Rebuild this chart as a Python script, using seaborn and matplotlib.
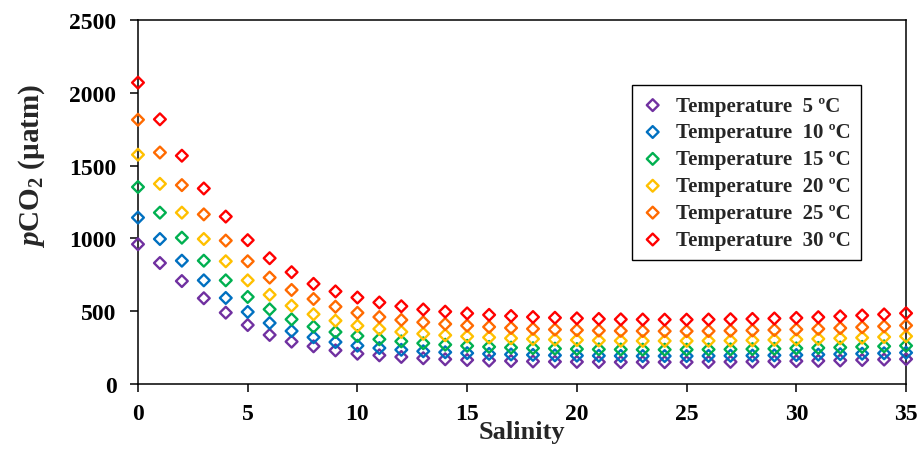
import matplotlib
matplotlib.use("Agg")
import matplotlib.pyplot as plt
import seaborn as sns
import pandas as pd

salinity = list(range(0, 36))

t05 = [960, 831, 707, 589, 490, 405, 337, 291, 259, 231, 208, 197, 186, 177, 170, 165, 161, 158,
       155, 153, 152, 151, 150, 150, 150, 150, 151, 152, 153, 155, 157, 159, 162, 165, 168, 171]
t10 = [1143, 996, 847, 712, 591, 495, 419, 364, 321, 288, 263, 247, 235, 225, 218, 212, 207, 203,
       200, 197, 195, 194, 193, 192, 192, 192, 193, 194, 195, 197, 199, 202, 205, 208, 211, 215]
t15 = [1353, 1177, 1005, 847, 712, 598, 513, 444, 394, 357, 330, 307, 293, 280, 270, 262, 255, 250,
       246, 243, 240, 238, 237, 236, 236, 236, 237, 238, 240, 242, 245, 248, 251, 255, 259, 263]
t20 = [1575, 1375, 1177, 996, 843, 712, 613, 538, 479, 435, 400, 378, 358, 345, 335, 327, 320, 314,
       309, 305, 302, 299, 297, 296, 296, 296, 297, 298, 300, 303, 306, 310, 314, 318, 323, 328]
t25 = [1815, 1590, 1366, 1165, 985, 843, 731, 646, 584, 531, 489, 460, 440, 424, 412, 401, 392, 385,
       379, 374, 370, 367, 365, 364, 363, 363, 364, 366, 368, 371, 375, 379, 384, 390, 396, 402]
t30 = [2070, 1818, 1568, 1343, 1150, 988, 864, 768, 688, 636, 594, 560, 534, 512, 497, 485, 475, 467,
       460, 455, 451, 447, 444, 443, 442, 442, 443, 445, 447, 450, 454, 459, 465, 471, 478, 486]

labels = ["Temperature  5 ºC", "Temperature  10 ºC", "Temperature  15 ºC",
          "Temperature  20 ºC", "Temperature  25 ºC", "Temperature  30 ºC"]
colors = ["#7030A0", "#0070C0", "#00B050", "#FFC000", "#FF6A00", "#FF0000"]
series = [t05, t10, t15, t20, t25, t30]

sns.set_style("white")
plt.rcParams['font.family'] = ['Liberation Serif', 'DejaVu Serif']
plt.rcParams['mathtext.fontset'] = 'custom'
plt.rcParams['mathtext.rm'] = 'Liberation Serif:bold'
plt.rcParams['mathtext.it'] = 'Liberation Serif:italic:bold'
plt.rcParams['mathtext.bf'] = 'Liberation Serif:bold'

fig = plt.figure(figsize=(9.18, 4.52), dpi=100)
ax = fig.add_axes([0.1503, 0.1482, 0.8367, 0.8053])

for vals, lab, col in zip(series, labels, colors):
    df = pd.DataFrame({"Salinity": salinity, "pCO2": vals})
    sns.scatterplot(data=df, x="Salinity", y="pCO2", ax=ax, marker="D", s=36,
                    facecolors="none", edgecolors=col, linewidth=1.7,
                    label=lab, clip_on=False, zorder=3)

ax.set_xlim(0, 35)
ax.set_ylim(0, 2500)
ax.set_xticks(range(0, 36, 5))
ax.set_yticks(range(0, 2501, 500))
for sp in ax.spines.values():
    sp.set_color("black")
    sp.set_linewidth(1.1)
ax.tick_params(axis="both", which="major", direction="out", length=5.5, width=1.1,
               colors="black", labelsize=17)
ax.tick_params(axis="x", pad=8)
ax.tick_params(axis="y", pad=10)
ax.tick_params(left=True, bottom=True)
for t in ax.get_xticklabels() + ax.get_yticklabels():
    t.set_fontweight("bold")

ax.set_xlabel("Salinity", fontsize=19, fontweight="bold", labelpad=-3)
ax.set_ylabel(r"$\mathit{p}$CO$_2$ (µatm)", fontsize=21, fontweight="bold")
ax.yaxis.set_label_coords(-0.118, 0.602)

leg = ax.legend(loc="upper left", bbox_to_anchor=(0.643, 0.821), borderaxespad=0,
                frameon=True, fancybox=False, framealpha=1, edgecolor="black",
                prop={"family": "Liberation Serif", "weight": "bold", "size": 15},
                handlelength=1.0, handletextpad=0.6, labelspacing=0.33,
                borderpad=0.5, markerscale=1.0)
leg.get_frame().set_linewidth(1.0)

fig.savefig("out.png", dpi=100)
